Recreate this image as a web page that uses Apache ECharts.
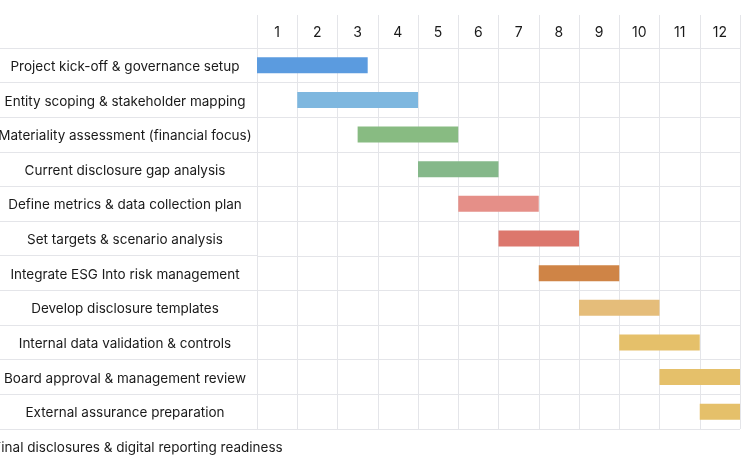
<!DOCTYPE html>
<html><head><meta charset="utf-8">
<script src="https://cdn.jsdelivr.net/npm/echarts@6/dist/echarts.min.js"></script>
<style>html,body{margin:0;padding:0;background:#fff}#c{width:753px;height:460px}</style>
</head><body><div id="c"></div>
<script>
const tasks = [
  'Project kick-off & governance setup',
  'Entity scoping & stakeholder mapping',
  'Materiality assessment (financial focus)',
  'Current disclosure gap analysis',
  'Define metrics & data collection plan',
  'Set targets & scenario analysis',
  'Integrate ESG Into risk management',
  'Develop disclosure templates',
  'Internal data validation & controls',
  'Board approval & management review',
  'External assurance preparation',
  'Final disclosures & digital reporting readiness'
];
const months = ['1','2','3','4','5','6','7','8','9','10','11','12'];
const starts = [0, 1, 2.5, 4, 5, 6, 7, 8, 9, 10, 11, 12];
const ends   = [2.75, 4, 5, 6, 7, 8, 9, 10, 11, 12, 13, 14];
const colors = ['#5B9BDF','#7EB7DF','#88BB82','#85B88A','#E58F88','#DC776D','#CF8446','#E5BD7A','#E5C06A','#E5C06A','#E5C06A','#E5C06A'];

const LINE = '#E4E5E9';
const FONT = 'Inter, "Noto Sans", sans-serif';
const chart = echarts.init(document.getElementById('c'), null, {renderer:'canvas'});
chart.setOption({
  animation: false,
  backgroundColor: '#ffffff',
  grid: [
    {left: 257, right: 13, top: 15, height: 33, outerBoundsMode: 'none', containLabel: false},
    {left: 257, right: 13, top: 48, height: 381, outerBoundsMode: 'none', containLabel: false},
    {left: 0, width: 257, top: 48, height: 415.5, outerBoundsMode: 'none', containLabel: false}
  ],
  xAxis: [
    {gridIndex: 0, type: 'category', data: months, position: 'top', boundaryGap: true,
     axisLine: {show: true, lineStyle: {color: LINE}}, axisTick: {show: false},
     axisLabel: {inside: true, margin: 18, verticalAlign: 'middle', fontSize: 14, color: '#1a1a1a', fontFamily: FONT},
     splitLine: {show: true, lineStyle: {color: LINE}}},
    {gridIndex: 1, type: 'value', min: 0, max: 12, interval: 1, position: 'top',
     axisLine: {show: false}, axisTick: {show: false}, axisLabel: {show: false},
     splitLine: {show: true, lineStyle: {color: LINE}}},
    {gridIndex: 2, type: 'value', show: false}
  ],
  yAxis: [
    {gridIndex: 0, type: 'value', show: false},
    {gridIndex: 1, type: 'category', data: tasks, inverse: true, min: 0, max: 10,
     axisLine: {show: false}, axisTick: {show: false}, axisLabel: {show: false},
     splitLine: {show: true, lineStyle: {color: LINE}}},
    {gridIndex: 2, type: 'category', data: tasks, inverse: true,
     axisLine: {show: false}, axisTick: {show: false},
     axisLabel: {inside: true, margin: 125, align: 'center', fontSize: 13.5, color: '#1a1a1a', fontFamily: FONT,
       padding: [3, 0, 0, 0],
       formatter: (v, i) => i === tasks.length - 1 ? '{w|' + v + '}' : v,
       rich: {w: {fontSize: 13.5, color: '#1a1a1a', fontFamily: FONT, padding: [0, 0, 0, 26]}}},
     splitLine: {show: true, lineStyle: {color: LINE}}}
  ],
  series: [
    {type: 'bar', xAxisIndex: 1, yAxisIndex: 1, stack: 'g', barWidth: 16, clip: true,
     itemStyle: {color: 'rgba(0,0,0,0)'}, data: starts, silent: true},
    {type: 'bar', xAxisIndex: 1, yAxisIndex: 1, stack: 'g', barWidth: 16, clip: true,
     data: ends.map((e, i) => ({value: e - starts[i], itemStyle: {color: colors[i]}}))}
  ]
});
</script></body></html>
